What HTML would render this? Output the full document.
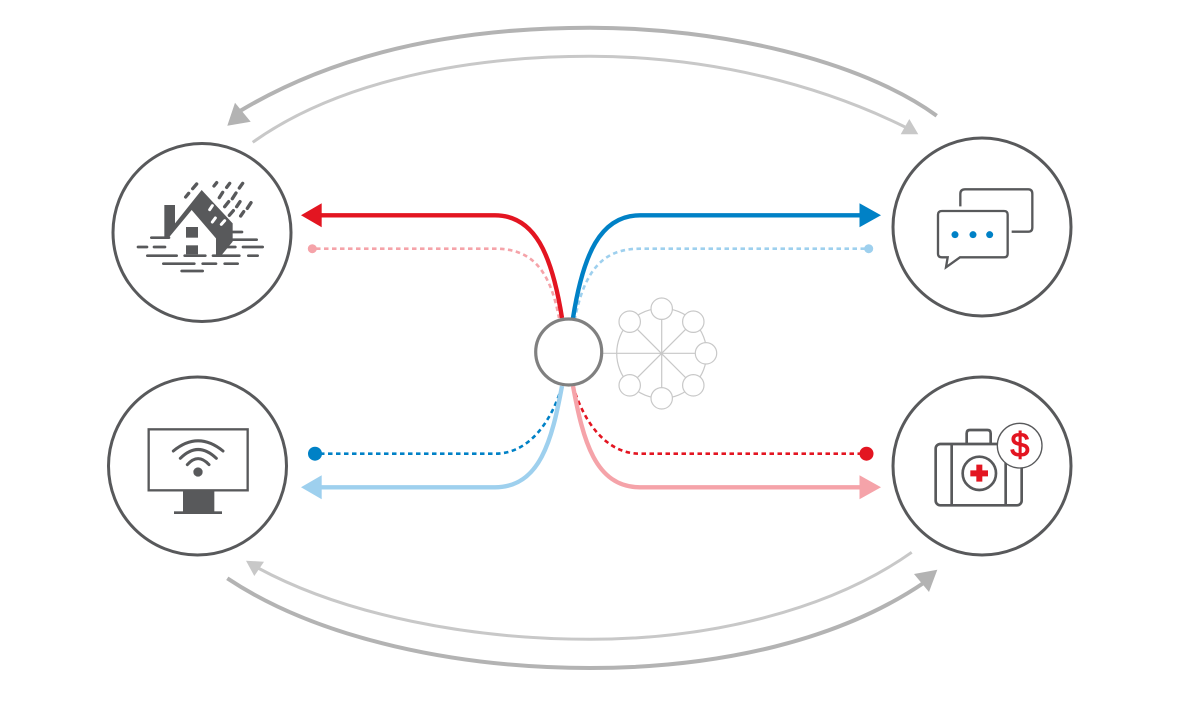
<!DOCTYPE html>
<html><head><meta charset="utf-8"><style>html,body{margin:0;padding:0;background:#fff}svg{display:block}</style></head>
<body>
<svg width="1201" height="701" viewBox="0 0 1201 701" xmlns="http://www.w3.org/2000/svg" fill="none">
<rect width="1201" height="701" fill="#fff"/>
<!-- outer arcs -->
<path d="M240,111 C345,48 470,27.7 590,27.7 C720,27.7 860,60 936.7,115.7" stroke="#b3b3b3" stroke-width="4"/>
<polygon points="227.3,125.7 235,102.7 250.7,121.7" fill="#b3b3b3"/>
<path d="M252.7,142.3 C340,80 470,56.3 590,56.3 C710,56.3 820,85 905,127" stroke="#c8c8c8" stroke-width="3"/>
<polygon points="909.3,119 900.7,134.3 918.3,134.3" fill="#c8c8c8"/>
<path d="M911.7,552.3 C830,610 710,639.3 590,639.3 C470,639.3 345,615 258,568" stroke="#c8c8c8" stroke-width="3"/>
<polygon points="246,560.7 264,561.7 254.3,576" fill="#c8c8c8"/>
<path d="M227.3,578.3 C320,640 460,668 590,668 C720,668 840,640 925,582" stroke="#b3b3b3" stroke-width="4"/>
<polygon points="937.3,569.7 914,574 929,592" fill="#b3b3b3"/>
<!-- dotted connectors -->
<g stroke-width="2.6" stroke-dasharray="4.5 3.5">
<path d="M316,248.7 H495 C532,248.7 550,270 559,318" stroke="#f5a3a9"/>
<path d="M865,248.7 H640 C603,248.7 585,270 575,318" stroke="#9ed0ee"/>
<path d="M320,453.7 H495 C530,453.7 552,420 562,386" stroke="#0081c6"/>
<path d="M862,453.7 H640 C605,453.7 583,420 573,386" stroke="#e31521"/>
</g>
<circle cx="312.3" cy="248.7" r="4.5" fill="#f5a3a9"/>
<circle cx="868.7" cy="248.7" r="4.5" fill="#9ed0ee"/>
<circle cx="315" cy="453.7" r="7" fill="#0081c6"/>
<circle cx="866.5" cy="453.7" r="7" fill="#e31521"/>
<!-- solid connectors -->
<g stroke-width="4.4">
<path d="M320,487.3 H495 C540,487.3 552,440 562,386" stroke="#9ed0ee"/>
<path d="M862,487.3 H640 C595,487.3 583,440 573,386" stroke="#f5a3a9"/>
<path d="M320,215.3 H495 C535,215.3 552,255 562,318" stroke="#e31521"/>
<path d="M862,215.3 H640 C600,215.3 583,255 573,318" stroke="#0081c6"/>
</g>
<polygon points="301,215.3 321.7,203.3 321.7,227.3" fill="#e31521"/>
<polygon points="881,215.3 859.5,203.3 859.5,227.3" fill="#0081c6"/>
<polygon points="301,487.3 321.7,475.3 321.7,499.3" fill="#9ed0ee"/>
<polygon points="881,487.3 859.5,475.3 859.5,499.3" fill="#f5a3a9"/>
<!-- wheel -->
<g stroke="#c8c8c8" stroke-width="1.2">
<circle cx="661.7" cy="353.3" r="45"/>
<path d="M603,353.3 H706 M661.7,309 V398 M629.7,321.7 L693.3,385.3 M693.3,321.7 L629.7,385.3"/>
<g fill="#fff">
<circle cx="661.7" cy="308.7" r="10.7"/><circle cx="693.3" cy="321.7" r="10.7"/>
<circle cx="706" cy="353.3" r="10.7"/><circle cx="693.3" cy="385.3" r="10.7"/>
<circle cx="661.7" cy="398.3" r="10.7"/><circle cx="629.7" cy="385.3" r="10.7"/>
<circle cx="629.7" cy="321.7" r="10.7"/>
</g></g>
<circle cx="568.7" cy="352" r="33" fill="#fff" stroke="#808080" stroke-width="3.2"/>
<!-- main circles -->
<g stroke="#58595b" stroke-width="3" fill="#fff">
<circle cx="202" cy="232.5" r="89"/><circle cx="982" cy="227" r="89"/>
<circle cx="197.5" cy="466" r="89"/><circle cx="982" cy="466" r="89"/>
</g>
<!-- house -->
<g transform="translate(100,130) scale(.33333)">
<polygon fill="#58595b" points="193,225 225,225 225,280 305,180 398,280 398,335 365,375 348,375 348,325 275,240 207,322 193,322"/>
<rect x="258" y="291" width="36" height="32" fill="#58595b"/>
<rect x="258" y="346" width="36" height="27" fill="#58595b"/>
<g stroke="#58595b" stroke-width="10" stroke-linecap="round">
<path d="M257,201 L266,190 M278,176 L290,162 M342,168 L350,158 M380,172 L389,160 M418,174 L428,160 M358,203 L368,187 M397,206 L408,189 M374,230 L386,215 M410,230 L420,215 M442,235 L453,218 M388,256 L400,242 M422,258 L431,245"/>
</g>
<g stroke="#fff" stroke-width="9" stroke-linecap="round">
<path d="M329,239 L337,227 M337,276 L346,264 M364,283 L374,272"/>
</g>
<g stroke="#58595b" stroke-width="8" stroke-linecap="round">
<path d="M398,306 H426 M154,323 H207 M398,329 H470 M114,351 H141 M162,351 H195 M380,351 H406 M429,351 H488 M142,377 H230 M254,377 H316 M339,377 H418 M445,377 H473 M190,401 H283 M308,401 H348 M374,401 H413 M245,423 H308"/>
</g>
</g>
<!-- chat -->
<g transform="translate(880,130) scale(.33333)" stroke="#58595b" stroke-width="7">
<path d="M241,229 V192 Q241,178 255,178 H445 Q457,178 457,192 V292 Q457,305 445,305 H395"/>
<path d="M186,243 H372 Q383,243 383,254 V371 Q383,382 372,382 H240 L198,412 L203,382 H186 Q174,382 174,371 V254 Q174,243 186,243 Z"/>
<g fill="#0081c6" stroke="none"><circle cx="225" cy="314" r="10.5"/><circle cx="279" cy="314" r="10.5"/><circle cx="329" cy="314" r="10.5"/></g>
</g>
<!-- monitor -->
<g transform="translate(100,370) scale(.33333)" stroke="#58595b">
<rect x="146" y="178" width="297" height="183" stroke-width="7"/>
<rect x="249" y="361" width="94" height="64" fill="#58595b" stroke="none"/>
<rect x="222" y="424" width="144" height="8" fill="#58595b" stroke="none"/>
<circle cx="294" cy="306" r="14" fill="#58595b" stroke="none"/>
<g stroke-width="9" stroke-linecap="round">
<path d="M220,243 Q294,182 369,243"/>
<path d="M241,265 Q294,212 349,265"/>
<path d="M262,284 Q294,248 327,284"/>
</g>
</g>
<!-- medical -->
<g transform="translate(880,370) scale(.33333)" stroke="#58595b" stroke-width="8">
<rect x="167" y="222" width="258" height="184" rx="14"/>
<path d="M215,222 V406 M377,222 V406"/>
<path d="M260,222 V190 Q260,180 270,180 H322 Q332,180 332,190 V222"/>
<circle cx="298" cy="310" r="50"/>
<path d="M271,310 H324 M298,284 V335" stroke="#e31521" stroke-width="18"/>
<circle cx="419" cy="227" r="67" fill="#fff" stroke-width="4"/>
<text x="420" y="260" text-anchor="middle" font-family="'Liberation Sans',sans-serif" font-size="102" fill="#e31521" stroke="#e31521" stroke-width="3">$</text>
</g>
</svg>
</body></html>
